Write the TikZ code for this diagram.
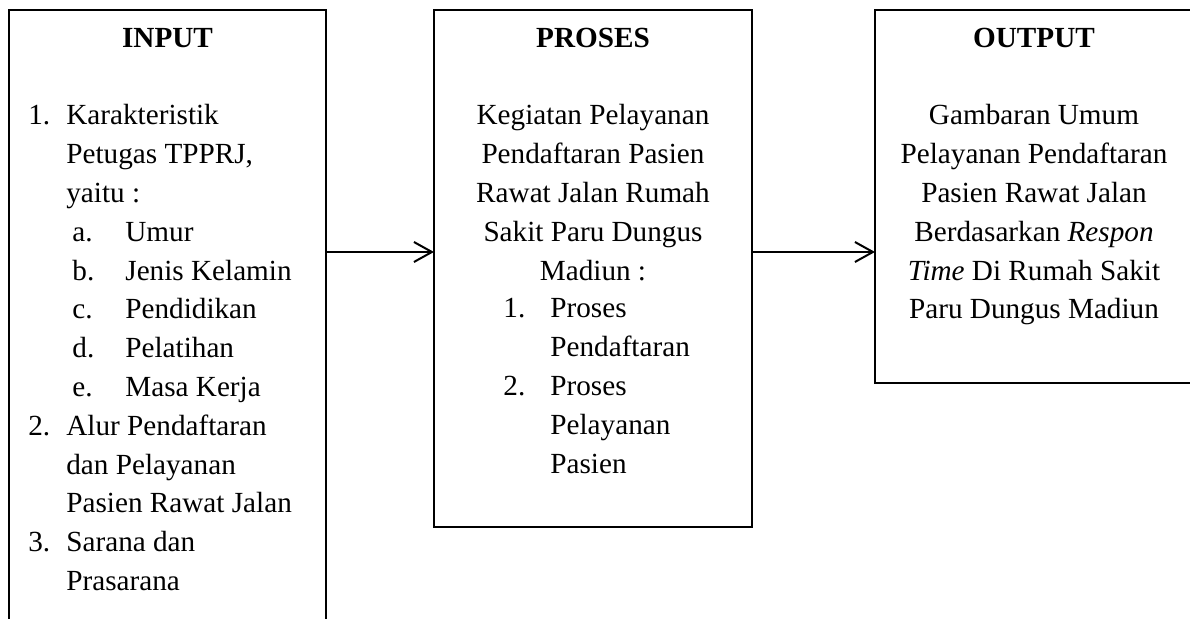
\documentclass[tikz,border=0pt]{standalone}
\usepackage{fontspec}
\setmainfont{Liberation Serif}
\usetikzlibrary{fit,arrows.meta}

\tikzset{
  kotak/.style={draw, line width=1pt, inner sep=0pt, outer sep=0pt},
  judul/.style={anchor=base, inner sep=0pt, font=\fontsize{14.6}{19.4}\selectfont\bfseries},
  isi/.style={inner sep=0pt, font=\fontsize{14.6}{19.4}\selectfont},
  panah/.style={line width=1pt, -{Straight Barb[length=9pt,width=10pt]}}
}

\begin{document}
\begin{tikzpicture}[x=0.5pt,y=-0.5pt]
\useasboundingbox (0,0) rectangle (1190,619);
% kotak
\node [kotak, fit={(9,10) (326,660)}] (input) {};
\node [kotak, fit={(434,10) (752,527)}] (proses) {};
\node [kotak, fit={(875,10) (1193,383)}] (output) {};
% judul
\node [judul] (tinput) at (167.5,48) {INPUT};
\node [judul] (tproses) at (593,48) {PROSES};
\node [judul] (toutput) at (1034,48) {OUTPUT};
% isi input
\node [isi, anchor=base west] (isiinput) at (28,125) {%
  \begin{tabular}[t]{@{}p{19pt}@{}l@{}}
  1. & Karakteristik\\
     & Petugas TPPRJ,\\
     & yaitu :\\
     & \hspace{3pt}\makebox[26.5pt][l]{a.}Umur\\
     & \hspace{3pt}\makebox[26.5pt][l]{b.}Jenis Kelamin\\
     & \hspace{3pt}\makebox[26.5pt][l]{c.}Pendidikan\\
     & \hspace{3pt}\makebox[26.5pt][l]{d.}Pelatihan\\
     & \hspace{3pt}\makebox[26.5pt][l]{e.}Masa Kerja\\
  2. & Alur Pendaftaran\\
     & dan Pelayanan\\
     & Pasien Rawat Jalan\\
  3. & Sarana dan\\
     & Prasarana
  \end{tabular}};
% isi proses
\node [isi, anchor=base] (isiproses) at (593,125) {%
  \begin{tabular}[t]{@{}c@{}}
  Kegiatan Pelayanan\\
  Pendaftaran Pasien\\
  Rawat Jalan Rumah\\
  Sakit Paru Dungus\\
  Madiun :
  \end{tabular}};
\node [isi, anchor=base west] (listproses) at (503,318) {%
  \begin{tabular}[t]{@{}p{23.5pt}@{}l@{}}
  1. & Proses\\
     & Pendaftaran\\
  2. & Proses\\
     & Pelayanan\\
     & Pasien
  \end{tabular}};
% isi output
\node [isi, anchor=base] (isioutput) at (1034,125) {%
  \begin{tabular}[t]{@{}c@{}}
  Gambaran Umum\\
  Pelayanan Pendaftaran\\
  Pasien Rawat Jalan\\
  Berdasarkan \textit{Respon}\\
  \textit{Time} Di Rumah Sakit\\
  Paru Dungus Madiun
  \end{tabular}};
% panah
\coordinate (tinggi) at (0,252);
\draw [panah] (input.east |- tinggi) -- (proses.west |- tinggi);
\draw [panah] (proses.east |- tinggi) -- (output.west |- tinggi);
\end{tikzpicture}
\end{document}
